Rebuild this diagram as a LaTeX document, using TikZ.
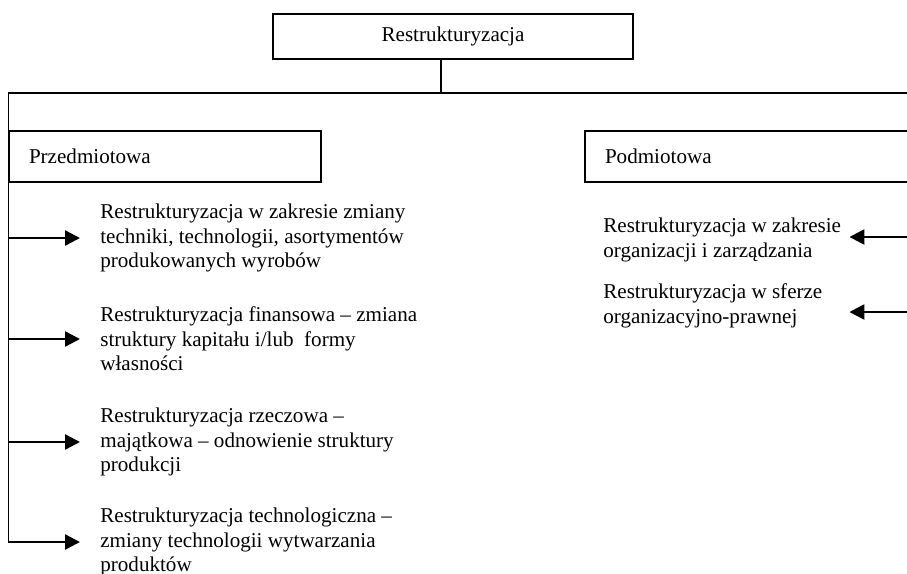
\documentclass[tikz,border=0pt]{standalone}
\usepackage{fontspec}
\setmainfont{Liberation Serif}
\usepackage{tikz}
\usetikzlibrary{positioning,arrows.meta,calc}

\begin{document}
\begin{tikzpicture}[
    font=\fontsize{12}{14}\selectfont,
    topbox/.style={rectangle,draw,line width=0.6pt,minimum width=7.2cm,minimum height=0.9cm},
    katbox/.style={rectangle,draw,line width=0.6pt,minimum height=1.02cm,text width=5.44cm,
                   inner xsep=0.4cm,align=left},
    opis/.style={inner sep=0pt,align=left},
    strz/.style={-{Triangle[length=0.3cm,width=0.3cm]},line width=1.4pt}
]
\useasboundingbox (0,0) rectangle (18.14,-11.46);
\clip (0,0) rectangle (18.14,-11.46);

\node[topbox] (root) at (9.06,-0.73) {Restrukturyzacja};
\node[katbox] (przed) at (3.3,-3.13) {Przedmiotowa};
\node[katbox,text width=6cm] (podm) at (15.1,-3.13) {Podmiotowa};

\coordinate (bus) at (8.82,-1.86);
\coordinate (prawa) at (18.4,-1.86);

\node[opis,anchor=west] (t1) at (2.0,-4.76) {Restrukturyzacja w zakresie zmiany\\techniki, technologii, asortymentów\\produkowanych wyrobów};
\node[opis,anchor=west] (t2) at (2.0,-6.78) {Restrukturyzacja finansowa – zmiana\\struktury kapitału i/lub~ formy\\własności};
\node[opis,anchor=west] (t3) at (2.0,-8.84) {Restrukturyzacja rzeczowa –\\majątkowa – odnowienie struktury\\produkcji};
\node[opis,anchor=west] (t4) at (2.0,-10.84) {Restrukturyzacja technologiczna –\\zmiany technologii wytwarzania\\produktów};

\node[opis,anchor=west] (p1) at (12.06,-4.8) {Restrukturyzacja w zakresie\\organizacji i zarządzania};
\node[opis,anchor=west] (p2) at (12.06,-6.12) {Restrukturyzacja w sferze\\organizacyjno-prawnej};

\draw[line width=0.6pt] (root.south -| bus) -- (bus);
\draw[line width=0.6pt] (prawa) -- (bus -| przed.west) -- (przed.west |- t4.west);

\draw[strz] (przed.west |- t1.west) -- ([xshift=-0.4cm]t1.west);
\draw[strz] (przed.west |- t2.west) -- ([xshift=-0.4cm]t2.west);
\draw[strz] (przed.west |- t3.west) -- ([xshift=-0.4cm]t3.west);
\draw[strz] (przed.west |- t4.west) -- ([xshift=-0.4cm]t4.west);

\draw[strz] (prawa |- 0,-4.74) -- ([xshift=0.16cm]p1.east |- 0,-4.74);
\draw[strz] (prawa |- 0,-6.24) -- ([xshift=0.16cm]p1.east |- 0,-6.24);
\end{tikzpicture}
\end{document}
